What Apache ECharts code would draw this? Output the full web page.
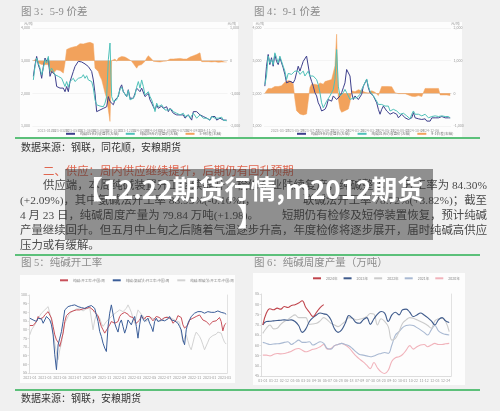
<!DOCTYPE html>
<html><head><meta charset="utf-8">
<script src="https://cdn.jsdelivr.net/npm/echarts@6/dist/echarts.min.js"></script>
<style>html,body{margin:0;padding:0;background:#f0f0f0}#c{width:500px;height:411px}</style>
</head><body><div id="c"></div>
<script>
// ---------- Figure 3: 5-9 spread ----------
const ticks3 = ['2022-11-18','2023-01-13','2023-03-10','2023-05-05','2023-06-30','2023-08-25','2023-10-20','2023-12-15','2024-02-09','2024-04-05','2024-05-31','2024-07-26','2024-09-20','2024-11-15','2025-01-10'];
const near3 = [2520,2870,3130,2870,2720,2460,2820,3080,2980,3080,
 2520,2670,2670,2570,2210,2160,2160,2110,2160,2050,
 2210,2050,2360,2310,2670,2820,2870,2980,2980,2960,
 2930,2900,2870,2820,2770,2670,2410,2000,1440,1390,
 1490,1490,1540,1540,1590,1900,1750,1700,1650,1800,
 1850,1900,2160,2260,2050,2000,1900,2110,1850,1800,
 1850,2000,2160,2210,2050,2160,2110,1900,1950,2000,
 1800,1700,1590,1490,1650,1540,1590,1610,1540,1490,
 1590,1440,1540,1490,1390,1440,1340,1390,1340,1290,
 1340,1240,1290,1340,1290,1180,1440,1490,1440,1440,
 1340,1390,1290,1340,1240,1290,1180,1290,1240,1290,
 1180,1240,1240,1290,1180,1240,1180];
const far3 = [2410,2820,3080,3030,2770,2570,2770,3030,2930,3130,
 2670,2770,2720,2570,2570,2520,2570,2460,2520,2210,
 2360,2190,2360,2330,2460,2360,2410,2460,2520,2490,
 2570,2460,2540,2410,2460,2360,2160,1800,1650,1590,
 1610,1650,1590,1700,1900,3030,3540,1900,1750,1700,
 1800,1850,2110,2190,2050,2000,1900,2090,1800,1750,
 1850,1950,2190,2360,2160,2410,2210,1950,2000,2050,
 1900,1800,1650,1440,1700,1590,1570,1650,1570,1490,
 1540,1490,1490,1510,1440,1490,1390,1410,1340,1290,
 1390,1290,1290,1340,1240,1240,1390,1340,1240,1290,
 1340,1290,1240,1290,1240,1240,1180,1290,1240,1240,
 1200,1240,1200,1270,1180,1200,1160];
const spread3 = [0,30,50,-70,-120,-120,-170,-120,-170,-120,
 -330,-280,-380,-330,-280,-230,-300,-330,-380,-70,
 340,360,390,440,420,460,440,490,520,490,
 510,460,540,490,560,540,520,-230,-280,-330,
 -480,-580,-630,-990,-1150,-1200,-1860,0,30,50,
 -20,80,110,130,80,110,80,50,30,-20,
 -90,-150,-230,-150,-170,-120,-70,-20,80,150,
 110,50,-20,-50,-30,-20,-40,-30,-20,-30,
 -10,30,50,50,50,70,60,50,70,60,
 50,30,50,80,110,130,150,170,190,210,
 240,-30,-40,-30,-40,-30,-40,-40,-40,-30,
 -40,-50,-40,-40,-30,-40,-40];

// ---------- Figure 4: 9-1 spread ----------
const ticks4 = ['2023-01-10','2023-03-17','2023-05-19','2023-07-21','2023-09-22','2023-11-24','2024-01-26','2024-03-29','2024-05-31','2024-08-02','2024-10-04','2024-12-06','2025-02-07'];
const near4 = [2220,2830,3190,2880,3090,2830,3190,2980,2880,3090,
 3030,2780,2580,2320,2370,2370,2420,2320,2420,2630,
 2830,2680,2830,2980,3030,3140,3190,2530,2370,2220,
 2020,1920,1710,1610,1460,1410,1510,1610,1810,1760,
 1760,1920,1860,1810,1860,1920,2020,2170,2320,2730,
 2750,2530,2020,1810,1920,1970,1810,1860,1970,2220,
 2270,2420,2170,2020,2070,1920,1810,1710,1510,1360,
 1510,1610,1560,1460,1510,1360,1310,1410,1460,1360,
 1250,1310,1360,1310,1250,1220,1200,1150,1250,1410,
 1250,1310,1220,1250,1200,1250,1220,1150,1100,1150,
 1250,1200,1250,1220,1250,1310,1290,1310,1250,1220,
 1250,1250];
const far4 = [2270,2530,3140,2930,3030,2880,3240,3090,2930,3140,
 3090,2830,2680,2420,2610,2630,2580,2580,2680,2730,
 2680,2580,2630,2680,2530,2580,2680,2530,2480,2530,
 2480,2420,2270,2020,1710,1560,1660,1760,1810,1920,
 2020,2120,2420,3340,2220,1920,1860,2020,2120,2020,
 1920,1810,1810,1860,1920,1860,1920,1970,2120,2220,
 2270,2440,2220,2070,2120,1920,1860,1760,1660,1610,
 1660,1630,1610,1590,1610,1460,1430,1510,1560,1460,
 1410,1360,1410,1390,1330,1310,1250,1220,1360,1460,
 1360,1410,1360,1330,1310,1360,1360,1310,1250,1220,
 1290,1250,1310,1310,1290,1330,1310,1310,1290,1250,
 1290,1250];
const spread4 = [0,30,150,180,150,180,210,180,210,180,
 230,280,340,360,390,340,360,280,-170,-530,
 -580,-630,-680,-660,-700,-630,-680,180,280,230,
 280,340,250,320,340,280,360,340,390,360,
 420,440,840,1810,-170,-480,-580,-630,-530,-580,
 -480,-270,80,80,50,80,110,80,80,50,
 30,0,10,50,80,50,30,-20,-70,-50,
 210,230,210,230,210,220,200,210,20,0,
 -10,0,-10,-20,-10,-20,-50,-70,-90,-90,
 -100,-120,-70,-90,-100,-120,150,170,150,170,
 150,170,150,160,150,-50,-40,-50,-60,-50,
 -70,-70];

// ---------- Figure 5: operating rate ----------
const ticks5 = ['2021-01','2021-03','2021-05','2021-07','2021-09','2021-11','2022-01','2022-03','2022-05','2022-07','2022-09','2022-11','2023-01','2023-03'];
const rateAll = [82.4,82.8,82.4,83.1,84.7,87.6,86.2,86.6,87.0,88.5,
 89.5,90.4,90.0,86.6,81.8,77.0,74.1,72.8,70.3,74.1,
 78.0,84.7,88.1,88.9,90.0,90.4,90.8,90.8,91.4,92.0,
 91.4,92.3,92.0,92.7,92.3,92.7,92.9,93.3,91.4,90.0,
 89.5,88.1,84.7,81.8,79.9,78.0,78.9,81.2,82.8,84.7,
 85.1,83.7,84.1,84.7,87.6,88.9,89.5,90.0,90.8,88.9,
 87.6,88.5,87.0,85.6,83.7,82.8,85.6,87.6,87.0,86.2,
 87.6,86.6,87.6,87.0,85.1,85.6,87.6,86.6,87.0,85.6,
 86.2,87.0,86.6,87.0,87.6,86.2,83.7,82.8,85.6,88.1,
 88.9,87.0,82.8,80.9,79.9,82.8,85.6,86.2,86.6,87.0,
 87.6,88.1,88.5,87.6,85.6,85.1,84.7,83.7,82.8,83.7,
 84.7,85.6,85.1,86.2,87.0,84.7,79.3,82.8,83.7];
const rateAmmonia = [86.6,86.2,85.6,85.6,84.7,86.6,85.6,86.2,83.7,85.6,
 87.6,88.5,85.6,82.8,77.0,65.5,56.9,71.3,75.1,78.9,
 84.7,91.4,92.3,93.3,93.3,93.9,94.3,94.3,93.9,93.3,
 93.3,92.7,92.7,92.3,93.3,93.3,93.3,93.9,94.3,92.3,
 88.5,84.7,78.9,76.1,72.2,69.4,67.4,81.8,89.5,94.3,
 93.3,83.7,80.9,78.6,83.7,85.6,81.8,78.0,80.9,85.6,
 84.7,82.8,85.6,87.6,81.8,75.1,82.8,88.5,86.2,84.7,
 85.6,86.6,83.7,81.8,78.9,84.7,86.6,84.7,83.7,85.6,
 86.6,85.1,84.7,86.2,87.6,85.6,84.7,85.1,85.6,83.7,
 81.8,79.9,74.1,71.3,79.9,83.7,85.6,87.6,88.5,89.5,
 90.0,90.4,90.0,90.4,90.8,89.5,90.0,90.4,90.8,90.0,
 89.5,90.0,90.4,90.8,90.4,90.0,89.5,89.5,88.9];
const rateJoint = [77.0,79.9,80.9,82.8,84.7,86.6,88.1,89.5,90.4,91.4,
 92.3,93.3,94.3,85.6,78.0,72.2,66.5,62.7,68.4,72.2,
 78.9,83.7,85.6,87.6,89.5,90.4,90.8,91.4,92.0,92.3,
 92.0,91.4,90.8,91.4,92.0,92.3,92.7,92.0,79.9,85.6,
 88.5,88.1,86.6,83.7,81.8,82.8,84.7,85.6,86.6,87.6,
 88.5,89.5,90.0,90.8,91.4,91.4,90.4,90.0,92.3,94.3,
 92.3,90.0,86.6,83.7,87.6,91.4,90.4,88.9,88.5,87.0,
 84.7,85.1,87.0,87.6,86.6,85.6,85.6,85.1,84.7,85.1,
 85.6,86.6,87.6,87.6,87.0,86.6,86.2,85.6,85.1,84.7,
 84.3,78.0,72.8,75.5,77.0,73.6,70.3,68.4,67.4,76.1,
 78.6,77.4,76.1,74.1,71.3,68.4,67.8,72.8,75.1,76.1,
 76.6,77.0,77.4,78.6,79.3,78.0,75.1,72.8,71.7];

// ---------- Figure 6: weekly output ----------
const ticks6 = ['01-01','01-22','02-12','03-05','03-26','04-16','05-07','05-28','06-18','07-09','07-30','08-20','09-10','10-01','10-22','11-12','12-03','12-24'];
const out2024 = [69.9,75.7,77.8,77.3,78.1,77.6,78.9,78.4,79.4,79.8,80.6,81.7,78.4,76.1,74.0,76.1,78.4,79.8];
const out2023 = [69.9,71.6,71.7,71.9,72.1,72.2,72.4,72.2,72.4,71.6,69.6,66.3,68.0,71.6,73.5,74.8,75.7,75.3,74.8,72.4,68.0,66.3,67.5,70.7,74.5,73.2,71.1,70.7,72.4,73.5,70.2,72.9,75.2,76.5,75.7,71.6,74.8,76.1,74.8,77.3,77.6,76.1,74.0,74.8,75.7,74.8,73.5,71.9,69.9,72.4,73.5,71.9,71.1];
const out2022 = [65.8,68.3,69.9,68.0,68.3,70.2,71.6,72.5,73.9,74.8,73.5,73.5,73.5,70.2,70.4,70.7,71.9,73.5,72.4,70.7,69.9,69.1,70.2,71.6,73.5,73.2,72.4,72.7,73.2,74.0,75.5,75.2,69.9,72.9,71.6,69.1,62.5,63.4,66.6,70.7,72.4,73.5,73.2,72.4,71.6,70.7,69.6,68.3,71.9,72.9,73.2,71.6,66.6];
const out2021 = [61.4,60.9,60.4,60.6,60.7,60.9,61.4,61.7,60.4,61.4,62.5,61.4,61.4,61.7,60.1,60.9,61.7,60.9,58.4,58.1,59.8,60.4,60.9,60.4,59.8,58.4,56.8,55.5,55.2,54.8,54.4,54.8,55.5,56.0,56.5,56.0,60.1,65.0,66.6,68.6,69.6,69.9,69.6,68.6,67.5,66.3,65.0,67.5,69.6,67.0,65.8,65.3,65.0];
const out2020 = [55.2,55.2,54.8,55.5,56.0,55.8,56.0,56.5,57.1,58.1,58.4,57.6,56.8,57.3,58.0,58.4,59.3,60.4,58.1,58.4,59.8,60.4,60.9,60.1,58.8,56.8,54.8,53.2,51.9,50.3,48.6,51.6,48.9,47.0,46.2,47.8,52.2,53.9,54.4,55.5,57.6,59.8,58.1,59.3,60.1,60.4,59.3,60.1,60.9,60.4,60.4,60.7,60.9];

// ---------- helpers ----------
function cats(n, step, ticks) {
  const a = [];
  for (let i = 0; i < n; i++) a.push(i % step === 0 && ticks[i / step] !== undefined ? ticks[i / step] : '');
  return a;
}
const commas = v => String(v).replace(/\B(?=(\d{3})+(?!\d))/g, ',');
const FS = 3.6;
const lblC = '#9a9a9a';
function xAx(grid, n, step, ticks) {
  return { type: 'category', gridIndex: grid, data: cats(n, step, ticks),
    axisLine: { lineStyle: { color: '#c8c8c8', width: 0.6 } },
    axisTick: { show: false },
    axisLabel: { interval: step - 1, fontSize: FS, color: lblC, margin: 2.5, hideOverlap: false } };
}
function yAx(grid, pos, min, max, interval, opts) {
  return Object.assign({ type: 'value', gridIndex: grid, position: pos, min: min, max: max, interval: interval,
    axisLine: { show: false }, axisTick: { show: false },
    splitLine: { show: false },
    axisLabel: { fontSize: FS, color: lblC, margin: 2.5, formatter: commas } }, opts || {});
}
const SERIF = '"Liberation Serif", "Noto Sans CJK SC"';
const BODY = '11.4px ' + SERIF;
const BODYC = '#4a4a4a';
function txt(x, y, s, font, fill, align, z) {
  return { type: 'text', z: z || 5, silent: true,
    style: { text: s, x: x, y: y, font: font, fill: fill, textAlign: align || 'left', textVerticalAlign: 'middle' } };
}
function rect(x, y, w, h, fill, z) {
  return { type: 'rect', z: z || 0, silent: true, shape: { x: x, y: y, width: w, height: h }, style: { fill: fill } };
}
function spreadSeries(name, xi, yi, data) {
  return { name: name, type: 'line', xAxisIndex: xi, yAxisIndex: yi, data: data, symbol: 'none', z: 1,
    lineStyle: { width: 0.5, color: orange }, itemStyle: { color: orange },
    areaStyle: { color: orange, opacity: 1, origin: 0 } };
}

const navy = '#3d3f8c', teal = '#4fc1b9', orange = '#f2a25c';
const c5red = '#c8505a', c5blue = '#3b5e99', c5gray = '#d3d3d3';
const c6 = ['#c0444c', '#3f5b8c', '#cbcbcb', '#a9b9d2', '#f1b3bb'];

const chart = echarts.init(document.getElementById('c'));
chart.setOption({
  animation: false,
  backgroundColor: '#f0f0f0',
  textStyle: { fontFamily: '"Noto Sans CJK SC", sans-serif' },
  grid: [
    { left: 32.5, top: 28, width: 195, height: 98 },
    { left: 264, top: 28, width: 187, height: 98 },
    { left: 29, top: 295, width: 198, height: 78 },
    { left: 261, top: 294, width: 190, height: 82 }
  ],
  xAxis: [
    xAx(0, near3.length, 8, ticks3),
    xAx(1, near4.length, 9, ticks4),
    xAx(2, rateAll.length, 9, ticks5),
    xAx(3, out2023.length, 3, ticks6)
  ],
  yAxis: [
    yAx(0, 'left', 1000, 4000, 1000, { name: '元/吨', nameGap: 3, nameTextStyle: { fontSize: FS, color: lblC, align: 'right' },
      splitLine: { show: true, lineStyle: { color: '#eeeeee', width: 0.6 } } }),
    yAx(0, 'right', -2000, 1000, 1000, { name: '元/吨', nameGap: 3, nameTextStyle: { fontSize: FS, color: lblC, align: 'left' } }),
    yAx(1, 'left', 1000, 4000, 1000, { name: '元/吨', nameGap: 3, nameTextStyle: { fontSize: FS, color: lblC, align: 'right' },
      splitLine: { show: true, lineStyle: { color: '#eeeeee', width: 0.6 } } }),
    yAx(1, 'right', -1000, 2000, 1000, { name: '元/吨', nameGap: 3, nameTextStyle: { fontSize: FS, color: lblC, align: 'left' } }),
    yAx(2, 'left', 55, 100, 5, { axisLine: { show: true, lineStyle: { color: '#c8c8c8', width: 0.6 } },
      axisTick: { show: true, length: 1.5, lineStyle: { color: '#c8c8c8', width: 0.5 } }, axisLabel: { fontSize: FS, color: lblC, margin: 2 } }),
    yAx(2, 'right', 0, 1, 1, { axisLine: { show: true, lineStyle: { color: '#d0d0d0', width: 0.6 } }, axisLabel: { show: false } }),
    yAx(3, 'left', 45, 85, 5, { axisLine: { show: true, lineStyle: { color: '#c8c8c8', width: 0.6 } },
      axisTick: { show: true, length: 1.5, lineStyle: { color: '#c8c8c8', width: 0.5 } }, axisLabel: { fontSize: FS, color: lblC, margin: 2 } }),
    yAx(3, 'right', 0, 1, 1, { axisLine: { show: true, lineStyle: { color: '#d0d0d0', width: 0.6 } }, axisLabel: { show: false } })
  ],
  legend: [
    { left: 66, top: 132, itemWidth: 9, itemHeight: 2, itemGap: 7, padding: 0,
      textStyle: { fontSize: FS, color: '#777' },
      data: [{ name: '纯碱05合约收盘价(左轴)', icon: 'rect' }, { name: '纯碱09合约收盘价(左轴)', icon: 'rect' }, { name: '5-9价差(右轴)', icon: 'rect' }] },
    { left: 297, top: 132, itemWidth: 9, itemHeight: 2, itemGap: 7, padding: 0,
      textStyle: { fontSize: FS, color: '#777' },
      data: [{ name: '纯碱09合约收盘价(左轴) ', icon: 'rect' }, { name: '纯碱01合约收盘价(左轴)', icon: 'rect' }, { name: '9-1价差(右轴)', icon: 'rect' }] },
    { left: 60, top: 278.5, itemWidth: 8, itemHeight: 2, itemGap: 8, padding: 0,
      textStyle: { fontSize: FS, color: '#888' },
      data: [{ name: '纯碱:开工率:中国:周', icon: 'rect' }, { name: '纯碱:氨碱法:开工率:中国:周', icon: 'rect' }, { name: '纯碱:联碱法:开工率:中国:周', icon: 'rect' }] },
    { left: 313, top: 276.5, itemWidth: 8, itemHeight: 2, itemGap: 6, padding: 0,
      textStyle: { fontSize: FS, color: '#888' },
      data: ['2024年', '2023年', '2022年', '2021年', '2020年'].map(n => ({ name: n, icon: 'rect' })) }
  ],
  series: [
    spreadSeries('5-9价差(右轴)', 0, 1, spread3),
    { name: '纯碱05合约收盘价(左轴)', type: 'line', xAxisIndex: 0, yAxisIndex: 0, data: near3, symbol: 'none', lineStyle: { color: navy, width: 1 }, itemStyle: { color: navy } },
    { name: '纯碱09合约收盘价(左轴)', type: 'line', xAxisIndex: 0, yAxisIndex: 0, data: far3, symbol: 'none', lineStyle: { color: teal, width: 1 }, itemStyle: { color: teal } },

    spreadSeries('9-1价差(右轴)', 1, 3, spread4),
    { name: '纯碱09合约收盘价(左轴) ', type: 'line', xAxisIndex: 1, yAxisIndex: 2, data: near4, symbol: 'none', lineStyle: { color: navy, width: 1 }, itemStyle: { color: navy } },
    { name: '纯碱01合约收盘价(左轴)', type: 'line', xAxisIndex: 1, yAxisIndex: 2, data: far4, symbol: 'none', lineStyle: { color: teal, width: 1 }, itemStyle: { color: teal } },

    { name: '纯碱:联碱法:开工率:中国:周', type: 'line', xAxisIndex: 2, yAxisIndex: 4, data: rateJoint, symbol: 'none', lineStyle: { color: c5gray, width: 1 }, itemStyle: { color: c5gray } },
    { name: '纯碱:开工率:中国:周', type: 'line', xAxisIndex: 2, yAxisIndex: 4, data: rateAll, symbol: 'none', lineStyle: { color: c5red, width: 1 }, itemStyle: { color: c5red } },
    { name: '纯碱:氨碱法:开工率:中国:周', type: 'line', xAxisIndex: 2, yAxisIndex: 4, data: rateAmmonia, symbol: 'none', lineStyle: { color: c5blue, width: 1 }, itemStyle: { color: c5blue } },

    { name: '2020年', type: 'line', xAxisIndex: 3, yAxisIndex: 6, data: out2020, symbol: 'none', smooth: 0.4, lineStyle: { color: c6[4], width: 1.1 }, itemStyle: { color: c6[4] } },
    { name: '2021年', type: 'line', xAxisIndex: 3, yAxisIndex: 6, data: out2021, symbol: 'none', smooth: 0.4, lineStyle: { color: c6[3], width: 1.1 }, itemStyle: { color: c6[3] } },
    { name: '2022年', type: 'line', xAxisIndex: 3, yAxisIndex: 6, data: out2022, symbol: 'none', smooth: 0.4, lineStyle: { color: c6[2], width: 1.1 }, itemStyle: { color: c6[2] } },
    { name: '2023年', type: 'line', xAxisIndex: 3, yAxisIndex: 6, data: out2023, symbol: 'none', smooth: 0.4, lineStyle: { color: c6[1], width: 1.1 }, itemStyle: { color: c6[1] } },
    { name: '2024年', type: 'line', xAxisIndex: 3, yAxisIndex: 6, data: out2024, symbol: 'none', smooth: 0.4, lineStyle: { color: c6[0], width: 1.1 }, itemStyle: { color: c6[0] } }
  ],
  graphic: [
    rect(20, 22, 218, 115, '#fdfdfd', 0),
    rect(253, 22, 209, 115, '#fdfdfd', 0),
    rect(20, 275, 215, 108, '#fdfdfd', 0),
    rect(253, 273, 212, 112, '#fdfdfd', 0),
    rect(15, 137, 465, 2, '#5cc07a', 3),
    rect(15, 254, 465, 2, '#5cc07a', 3),
    rect(15, 389, 465, 2, '#5cc07a', 3),
    txt(21, 12.5, '图 3：5-9 价差', '10.5px ' + SERIF, '#8c8c8c'),
    txt(254, 12.5, '图 4：9-1 价差', '10.5px ' + SERIF, '#8c8c8c'),
    txt(21, 263, '图 5：纯碱开工率', '10.5px ' + SERIF, '#8c8c8c'),
    txt(254, 263, '图 6：纯碱周度产量（万吨）', '10.5px ' + SERIF, '#8c8c8c'),
    txt(21, 148, '数据来源：钢联，同花顺，安粮期货', '10px ' + SERIF, '#333'),
    txt(21, 399.5, '数据来源：钢联，安粮期货', '10px ' + SERIF, '#333'),
    txt(43, 172, '二、供应：周内供应继续提升，后期仍有回升预期', BODY, '#e0664f'),
    txt(43, 186.5, '供应端，本周纯碱装置开工继续提升，检修企业陆续复产，纯碱整体', BODY, BODYC),
    txt(487, 186.5, '开工率为 84.30%', BODY, BODYC, 'right'),
    txt(20, 201.5, '(+2.09%)，其中氨碱法开工率 88.95%(-0.16%)，', BODY, BODYC),
    txt(487, 201.5, '联碱法开工率 78.72%(+3.82%)；截至', BODY, BODYC, 'right'),
    txt(20, 216.5, '4 月 23 日，纯碱周度产量为 79.84 万吨(+1.98)。', BODY, BODYC),
    txt(487, 216.5, '短期仍有检修及短停装置恢复，预计纯碱', BODY, BODYC, 'right'),
    txt(20, 231.5, '产量继续回升。但五月中上旬之后随着气温逐步升高，年度检修将逐步展开，届时纯碱高供应', BODY, BODYC),
    txt(20, 246.5, '压力或有缓解。', BODY, BODYC),
    rect(65, 169, 368, 71, 'rgba(45,45,45,0.5)', 100),
    { type: 'text', z: 101, silent: true,
      style: { text: '【12.22期货行情,m2012期货\n】', x: 250, y: 202.5, font: 'bold 26px "Noto Sans CJK SC"', fill: '#ffffff',
        textAlign: 'center', textVerticalAlign: 'middle', lineHeight: 27 } }
  ]
});
</script></body></html>
